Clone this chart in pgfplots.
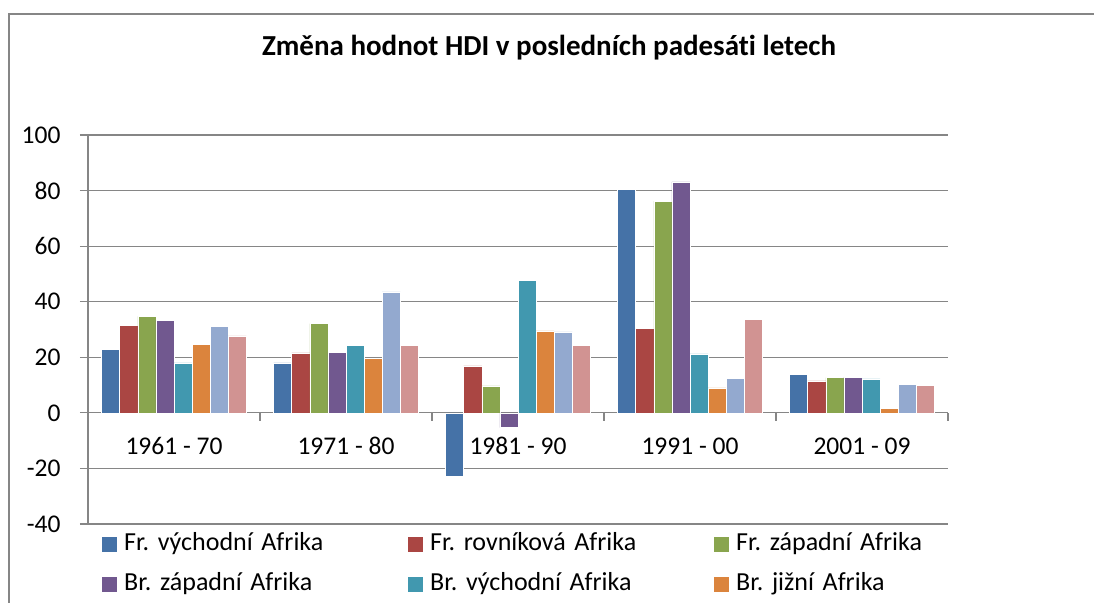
\documentclass[border=0pt]{standalone}
\usepackage{fontspec}
\setmainfont{Carlito}[Ligatures={NoCommon,NoContextual}]
\usepackage{pgfplots}
\pgfplotsset{compat=1.18}
\frenchspacing
\definecolor{gridgray}{HTML}{868686}
\definecolor{c1}{HTML}{4572A7}
\definecolor{c2}{HTML}{AA4643}
\definecolor{c3}{HTML}{89A54E}
\definecolor{c4}{HTML}{71588F}
\definecolor{c5}{HTML}{4198AF}
\definecolor{c6}{HTML}{DB843D}
\definecolor{c7}{HTML}{93A9CF}
\definecolor{c8}{HTML}{D19392}
\begin{document}
\begin{tikzpicture}
\useasboundingbox (0pt,0pt) rectangle (1094pt,602pt);
\draw[gridgray, line width=1.5pt] (9pt,-2pt) -- (9pt,588pt) -- (1096pt,588pt);
\node[font=\bfseries\fontsize{29}{34}\selectfont, anchor=base] at (549pt,546pt) {Změna hodnot HDI v posledních padesáti letech};
\begin{axis}[
  at={(88pt,78pt)}, anchor=south west,
  scale only axis, width=860pt, height=389pt,
  xmin=-0.5, xmax=4.5, ymin=-40, ymax=100,
  axis y line*=left, axis x line*=middle,
  ytick={-40,-20,...,100},
  ymajorgrids, grid style={line width=1.2pt, color=gridgray},
  axis line style={line width=1.2pt, color=gridgray},
  xtick={0,1,2,3,4},
  xticklabels={1961 - 70, 1971 - 80, 1981 - 90, 1991 - 00, 2001 - 09},
  major x tick style={draw=none},
  minor xtick={-0.5,0.5,1.5,2.5,3.5,4.5},
  minor x tick style={line width=1.2pt, color=gridgray},
  major y tick style={line width=1.2pt, color=gridgray},
  tick align=outside,
  major tick length=8pt, minor tick length=8pt,
  /pgf/number format/assume math mode=true,
  tick label style={font=\fontsize{25.5}{30}\selectfont, text=black},
  yticklabel style={xshift=-16pt},
  xticklabel style={text height=17pt, text depth=5pt, yshift=-13pt},
  ybar=0pt, bar width=18.1pt,
  every axis plot/.append style={draw=white, line width=0.6pt},
  legend columns=3,
  legend cell align=left,
  legend image code/.code={\fill[#1, draw=none] (0pt,-7pt) rectangle (15pt,8pt);},
  legend style={draw=none, fill=none, at={(0.0163,0)}, anchor=north west, yshift=-7.5pt,
    font=\fontsize{26}{31}\selectfont, inner sep=0pt, row sep=14pt,
    nodes={text height=17pt, text depth=5pt},
    /tikz/every odd column/.append style={column sep=5pt}},
]
\addplot[fill=c1] coordinates {(0,22.8) (1,18.0) (2,-22.7) (3,80.5) (4,13.7)};
\addlegendentry[text width=282pt, align=left]{Fr. východní Afrika}
\addplot[fill=c2] coordinates {(0,31.6) (1,21.6) (2,16.9) (3,30.5) (4,11.5)};
\addlegendentry[text width=282pt, align=left]{Fr. rovníková Afrika}
\addplot[fill=c3] coordinates {(0,34.7) (1,32.1) (2,9.7) (3,76.2) (4,12.7)};
\addlegendentry[text width=282pt, align=left]{Fr. západní Afrika}
\addplot[fill=c4] coordinates {(0,33.4) (1,21.8) (2,-5.3) (3,83.1) (4,12.9)};
\addlegendentry[text width=282pt, align=left]{Br. západní Afrika}
\addplot[fill=c5] coordinates {(0,18.0) (1,24.3) (2,47.8) (3,21.2) (4,12.2)};
\addlegendentry[text width=282pt, align=left]{Br. východní Afrika}
\addplot[fill=c6] coordinates {(0,24.6) (1,19.5) (2,29.5) (3,9.0) (4,1.6)};
\addlegendentry[text width=282pt, align=left]{Br. jižní Afrika}
\addplot[fill=c7] coordinates {(0,31.0) (1,43.5) (2,29.1) (3,12.3) (4,10.1)};
\addplot[fill=c8] coordinates {(0,27.7) (1,24.2) (2,24.2) (3,33.5) (4,9.9)};
\end{axis}
\end{tikzpicture}
\end{document}
